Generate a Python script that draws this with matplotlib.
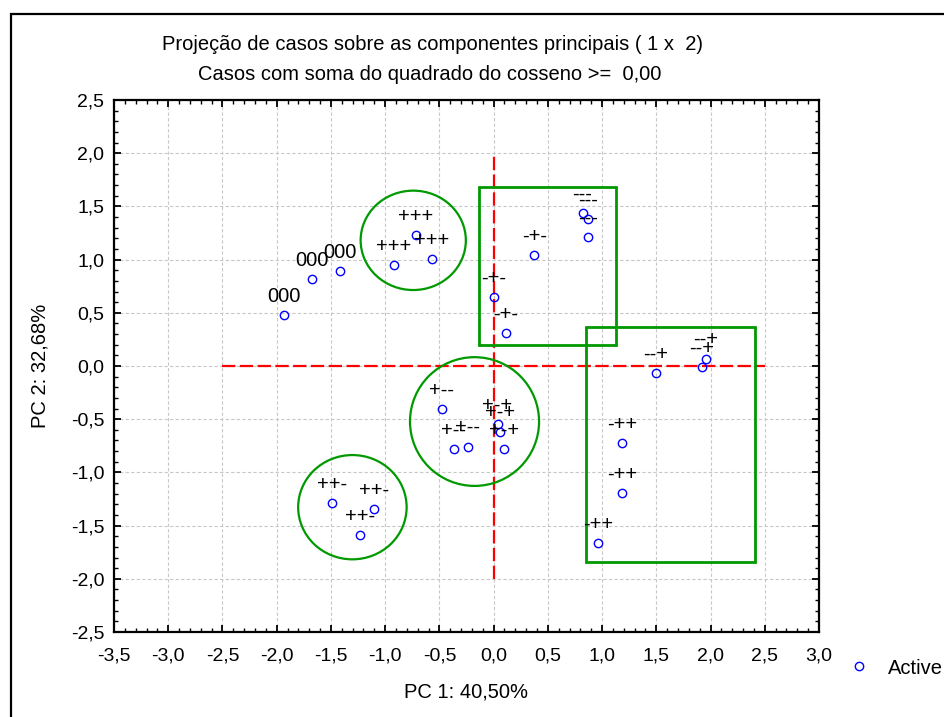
import matplotlib
matplotlib.use("Agg")
import matplotlib.pyplot as plt
from matplotlib.patches import Ellipse, Rectangle
from matplotlib.ticker import MultipleLocator, FuncFormatter
from matplotlib.lines import Line2D

plt.rcParams["font.family"] = ["Liberation Sans", "DejaVu Sans"]

# Case scores on PC1 / PC2 with their design labels
pc1 = [-1.933, -1.675, -1.417,
       -0.919, -0.717, -0.569,
       0.820, 0.869, 0.869,
       0.374, 0.002, 0.113,
       1.498, 1.922, 1.956,
       1.182, 1.182, 0.964,
       -1.488, -1.104, -1.233,
       -0.477, -0.366, -0.240,
       0.036, 0.058, 0.097]
pc2 = [0.480, 0.818, 0.893,
       0.949, 1.231, 1.006,
       1.441, 1.379, 1.215,
       1.043, 0.651, 0.313,
       -0.063, -0.009, 0.069,
       -0.727, -1.194, -1.661,
       -1.290, -1.347, -1.588,
       -0.407, -0.780, -0.758,
       -0.545, -0.617, -0.780]
case_labels = ["000", "000", "000",
               "+++", "+++", "+++",
               "---", "---", "---",
               "-+-", "-+-", "-+-",
               "--+", "--+", "--+",
               "-++", "-++", "-++",
               "++-", "++-", "++-",
               "+--", "+--", "+--",
               "+-+", "+-+", "+-+"]

# group highlights (center x, center y, width, height)
ellipses = [(-0.741, 1.181, 0.97, 0.934),
            (-0.176, -0.522, 1.19, 1.21),
            (-1.302, -1.327, 1.0, 0.98)]
# rectangles (x0, y0, x1, y1)
boxes = [(-0.136, 0.197, 1.124, 1.685),
         (0.850, -1.845, 2.414, 0.369)]

title1 = "Projeção de casos sobre as componentes principais ( 1 x  2)"
title2 = "Casos com soma do quadrado do cosseno >=  0,00"
xlabel = "PC 1: 40,50%"
ylabel = "PC 2: 32,68%"

fig = plt.figure(figsize=(9.44, 7.17), dpi=100)
ax = fig.add_axes([114 / 944, 1 - 632 / 717, 705 / 944, 532 / 717])

# outer frame of the graph window
fig.patches.append(Rectangle((11 / 944, -0.2), 1.2, 1.2 - 14 / 717,
                             transform=fig.transFigure, fill=False,
                             edgecolor="black", linewidth=1.6))

ax.set_xlim(-3.5, 3.0)
ax.set_ylim(-2.5, 2.5)
ax.xaxis.set_major_locator(MultipleLocator(0.5))
ax.yaxis.set_major_locator(MultipleLocator(0.5))
ax.xaxis.set_minor_locator(MultipleLocator(0.1))
ax.yaxis.set_minor_locator(MultipleLocator(0.1))
fmt = FuncFormatter(lambda v, p: f"{v + 0.0:.1f}".replace(".", ",").replace("-0,0", "0,0"))
ax.xaxis.set_major_formatter(fmt)
ax.yaxis.set_major_formatter(fmt)
ax.tick_params(which="both", direction="in", top=True, right=True,
               labelsize=14, colors="black")
ax.tick_params(which="major", length=5, width=1.3)
ax.tick_params(which="minor", length=3, width=1.0)
ax.tick_params(axis="x", which="major", pad=11)
ax.tick_params(axis="y", which="major", pad=7)
for s in ax.spines.values():
    s.set_linewidth(1.6)

ax.grid(True, which="major", color="#c8c8c8", linestyle=(0, (3, 2)), linewidth=0.8)
ax.set_axisbelow(True)

# red dashed origin lines
ax.plot([0, 0], [-2.0, 2.0], color="red", linewidth=1.6, dashes=(6, 2), zorder=2)
ax.plot([-2.5, 2.5], [0, 0], color="red", linewidth=1.6, dashes=(6, 2), zorder=2)

green = "#009900"
for cx, cy, w, h in ellipses:
    ax.add_patch(Ellipse((cx, cy), w, h, fill=False, edgecolor=green, linewidth=1.6, zorder=3))
for x0, y0, x1, y1 in boxes:
    ax.add_patch(Rectangle((x0, y0), x1 - x0, y1 - y0, fill=False,
                           edgecolor=green, linewidth=2.0, zorder=3))

ax.plot(pc1, pc2, linestyle="none", marker="o", markersize=6,
        markerfacecolor="none", markeredgecolor="#0000ff", markeredgewidth=1.0,
        zorder=4, label="Active")

for x, y, t in zip(pc1, pc2, case_labels):
    ax.annotate(t, (x, y), xytext=(0, 9.5), textcoords="offset points",
                ha="center", va="baseline", fontsize=14.5, color="black", zorder=5)

ax.set_xlabel(xlabel, fontsize=14.5, va="center")
ax.xaxis.set_label_coords(0.5, -60 / 532)
ax.set_ylabel(ylabel, fontsize=14.5, va="center")
ax.yaxis.set_label_coords(-74 / 705, 0.5)

fig.text(433 / 944, 1 - 44 / 717, title1, ha="center", va="center", fontsize=14.5)
fig.text(430 / 944, 1 - 74 / 717, title2, ha="center", va="center", fontsize=14.5)

handle = Line2D([], [], linestyle="none", marker="o", markersize=6,
                markerfacecolor="none", markeredgecolor="#0000ff", markeredgewidth=1.0)
fig.legend([handle], ["Active"], loc="center left",
           bbox_to_anchor=(850 / 944, 1 - 668 / 717), frameon=False,
           borderpad=0, borderaxespad=0, handlelength=0.9, handletextpad=1.0,
           fontsize=14.5)

fig.savefig("out.png", dpi=100)
